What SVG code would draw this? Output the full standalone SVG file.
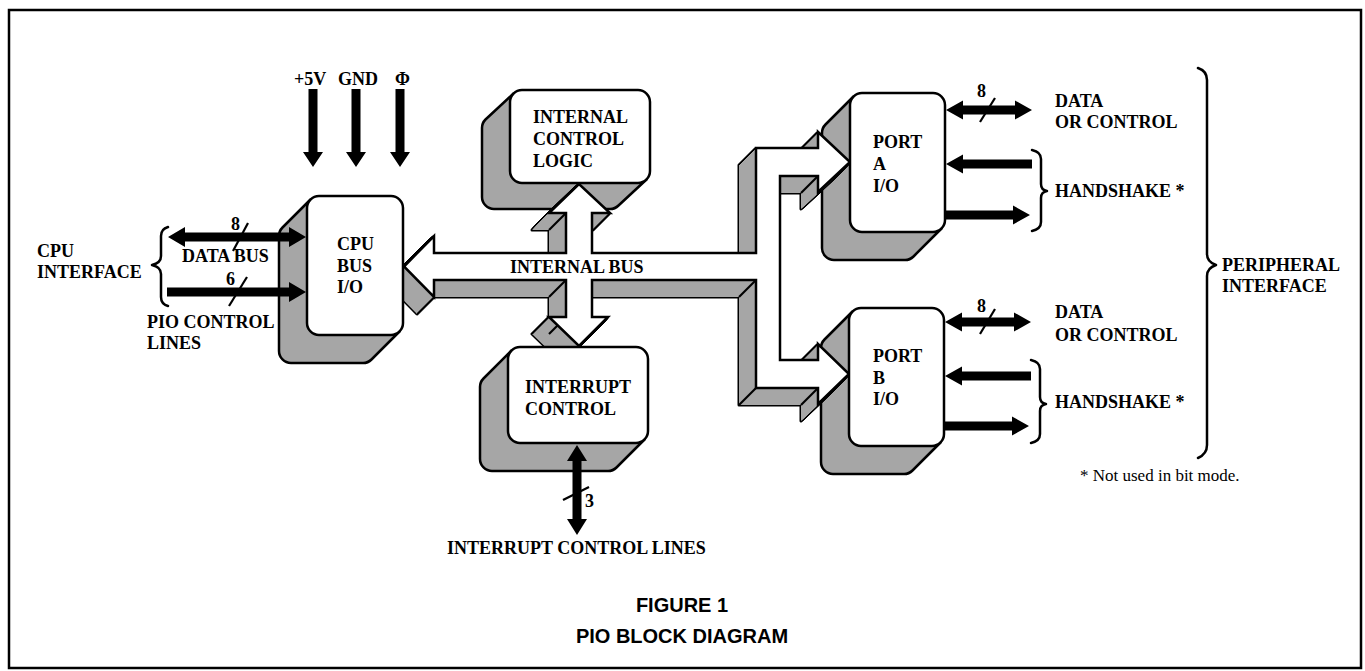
<svg xmlns="http://www.w3.org/2000/svg" xmlns:xlink="http://www.w3.org/1999/xlink" width="1365" height="671" viewBox="0 0 1365 671">
<style>
.t{font-family:"Liberation Serif","Times New Roman",serif;font-weight:bold;font-size:18px;fill:#000}
.fn{font-family:"Liberation Serif","Times New Roman",serif;font-size:17px;fill:#000}
.cap{font-family:"Liberation Sans",Arial,sans-serif;font-weight:bold;font-size:20px;fill:#000}
.box{fill:#fff;stroke:#000;stroke-width:2.5}
.shadow{fill:#a6a6a6;stroke:#000;stroke-width:2.5;stroke-linejoin:round}
.arrow{fill:#000;stroke:none}
.line{fill:none;stroke:#000;stroke-width:2.2}
.brace{fill:none;stroke:#000;stroke-width:2.5;stroke-linejoin:round;stroke-linecap:round}
</style>
<defs>
<path id="busShape" d="M404,266.5 L434,236 L434,253 L566,253 L566,213 L549,213 L579,184 L610,213 L592,213 L592,253 L756,253 L756,148 L818,148 L818,132 L850,162 L818,192 L818,176 L780,176 L780,360 L818,360 L818,344 L849,374 L818,404 L818,388 L756,388 L756,280 L592,280 L592,317 L608,317 L579,346 L549,317 L566,317 L566,280 L434,280 L434,297 Z"/>
</defs>
<rect x="0" y="0" width="1365" height="671" fill="#fff"/>
<rect x="9" y="10" width="1352" height="658" fill="none" stroke="#000" stroke-width="2.5"/>

<g id="shadows">
<path class="shadow" d="M310.5,199.5 L282.5,227.5 A12,12 0 0 0 279,236 V351 A12,12 0 0 0 291,363 H363 A12,12 0 0 0 371.5,359.5 L399.5,331.5 Z"/>
<path class="shadow" d="M513.5,93.5 L485.5,119.5 A12,12 0 0 0 482,128 V197 A12,12 0 0 0 494,209 H610 A12,12 0 0 0 618.5,205.5 L646.5,179.5 Z"/>
<path class="shadow" d="M511.5,350.5 L483.5,378.5 A12,12 0 0 0 480,387 V459 A12,12 0 0 0 492,471 H608 A12,12 0 0 0 616.5,467.5 L644.5,439.5 Z"/>
<path class="shadow" d="M853.5,96.5 L825.5,124.5 A12,12 0 0 0 822,133 V248 A12,12 0 0 0 834,260 H905 A12,12 0 0 0 913.5,256.5 L941.5,228.5 Z"/>
<path class="shadow" d="M852.5,311.5 L824.5,339.5 A12,12 0 0 0 821,348 V462 A12,12 0 0 0 833,474 H904 A12,12 0 0 0 912.5,470.5 L940.5,442.5 Z"/>
</g>

<g id="connectors">
<g id="internal-bus">
<g fill="#000" stroke="#000" stroke-width="3" stroke-linejoin="round">
<use xlink:href="#busShape" x="-1" y="1"/><use xlink:href="#busShape" x="-2" y="2"/><use xlink:href="#busShape" x="-3" y="3"/><use xlink:href="#busShape" x="-4" y="4"/><use xlink:href="#busShape" x="-5" y="5"/><use xlink:href="#busShape" x="-6" y="6"/><use xlink:href="#busShape" x="-7" y="7"/><use xlink:href="#busShape" x="-8" y="8"/><use xlink:href="#busShape" x="-9" y="9"/><use xlink:href="#busShape" x="-10" y="10"/><use xlink:href="#busShape" x="-11" y="11"/><use xlink:href="#busShape" x="-12" y="12"/><use xlink:href="#busShape" x="-13" y="13"/><use xlink:href="#busShape" x="-14" y="14"/><use xlink:href="#busShape" x="-15" y="15"/><use xlink:href="#busShape" x="-16" y="16"/><use xlink:href="#busShape" x="-17" y="17"/>
</g>
<g fill="#a6a6a6">
<use xlink:href="#busShape" x="-1" y="1"/><use xlink:href="#busShape" x="-2" y="2"/><use xlink:href="#busShape" x="-3" y="3"/><use xlink:href="#busShape" x="-4" y="4"/><use xlink:href="#busShape" x="-5" y="5"/><use xlink:href="#busShape" x="-6" y="6"/><use xlink:href="#busShape" x="-7" y="7"/><use xlink:href="#busShape" x="-8" y="8"/><use xlink:href="#busShape" x="-9" y="9"/><use xlink:href="#busShape" x="-10" y="10"/><use xlink:href="#busShape" x="-11" y="11"/><use xlink:href="#busShape" x="-12" y="12"/><use xlink:href="#busShape" x="-13" y="13"/><use xlink:href="#busShape" x="-14" y="14"/><use xlink:href="#busShape" x="-15" y="15"/><use xlink:href="#busShape" x="-16" y="16"/><use xlink:href="#busShape" x="-17" y="17"/>
</g>
<g class="line">
<line x1="756" y1="388" x2="739" y2="405"/>
<line x1="756" y1="280" x2="739" y2="297"/>
<line x1="566" y1="280" x2="549" y2="297"/>
<line x1="566" y1="213" x2="549" y2="230"/>
<line x1="566" y1="317" x2="549" y2="334"/>
<line x1="818" y1="388" x2="801" y2="405"/>
<line x1="818" y1="176" x2="801" y2="193"/>
</g>
<use xlink:href="#busShape" fill="#fff" stroke="#000" stroke-width="2.5" stroke-linejoin="miter"/>
<text class="t" x="510" y="273">INTERNAL BUS</text>
</g>

<g id="power-arrows">
<path class="arrow" d="M308.5,89 H317.5 V152 H323 L313,167 L303,152 H308.5 Z"/>
<path class="arrow" d="M351.5,89 H360.5 V152 H366 L356,167 L346,152 H351.5 Z"/>
<path class="arrow" d="M395.5,89 H404.5 V152 H410 L400,167 L390,152 H395.5 Z"/>
</g>
<g id="cpu-lines">
<path class="arrow" d="M168,237 L185,227 V232.5 H289 V227 L306,237 L289,247 V241.5 H185 V247 Z"/>
<path class="arrow" d="M167,287.5 H289 V282 L306,292 L289,302 V296.5 H167 Z"/>
<line class="line" x1="248" y1="223" x2="233" y2="251"/>
<line class="line" x1="247" y1="277" x2="229" y2="306"/>
<path class="brace" d="M168,227 Q161,229 161,236 V256 Q161,263 152,265 Q161,267 161,274 V297 Q161,304 168,306"/>
</g>
<g id="port-a-lines">
<path class="arrow" d="M946,110 L963,100.5 V105.5 H1015 V100.5 L1032,110 L1015,119.5 V114.5 H963 V119.5 Z"/>
<path class="arrow" d="M1032,159.5 H963 V154.5 L946,164 L963,173.5 V168.5 H1032 Z"/>
<path class="arrow" d="M946,210.5 H1013 V205.5 L1030,215 L1013,224.5 V219.5 H946 Z"/>
<line class="line" x1="995" y1="98" x2="980" y2="122"/>
<path class="brace" d="M1032,150 Q1041,152 1041,159 V184 Q1041,190 1047,191 Q1041,192 1041,198 V222 Q1041,229 1032,231"/>
</g>
<g id="port-b-lines">
<path class="arrow" d="M945,322 L962,312.5 V317.5 H1014 V312.5 L1031,322 L1014,331.5 V326.5 H962 V331.5 Z"/>
<path class="arrow" d="M1031,371.5 H962 V366.5 L945,376 L962,385.5 V380.5 H1031 Z"/>
<path class="arrow" d="M945,421.5 H1012 V416.5 L1029,426 L1012,435.5 V430.5 H945 Z"/>
<line class="line" x1="995" y1="309" x2="980" y2="334"/>
<path class="brace" d="M1031,360 Q1040,362 1040,369 V397 Q1040,403 1046,404 Q1040,405 1040,411 V434 Q1040,441 1031,443"/>
</g>
<g id="interrupt-lines">
<path class="arrow" d="M577,445 L587,461 H581.5 V519 H587 L577,535 L567,519 H572.5 V461 H567 Z"/>
<line class="line" x1="563" y1="500" x2="589" y2="487"/>
</g>
<path id="peripheral-brace" class="brace" d="M1198,68 Q1207,71 1207,80 V254 Q1207,262 1216,265 Q1207,268 1207,276 V445 Q1207,454 1198,458"/>
</g>

<g id="cpu-bus-io">
<rect class="box" x="307" y="196" width="96" height="139" rx="12"/>
<text class="t" x="337" y="250">CPU</text>
<text class="t" x="337" y="272">BUS</text>
<text class="t" x="337" y="293">I/O</text>
</g>
<g id="internal-control-logic">
<rect class="box" x="510" y="90" width="140" height="93" rx="12"/>
<text class="t" x="533" y="123">INTERNAL</text>
<text class="t" x="533" y="145">CONTROL</text>
<text class="t" x="533" y="167">LOGIC</text>
</g>
<g id="interrupt-control">
<rect class="box" x="508" y="347" width="140" height="96" rx="12"/>
<text class="t" x="525" y="393">INTERRUPT</text>
<text class="t" x="525" y="415">CONTROL</text>
</g>
<g id="port-a-io">
<rect class="box" x="850" y="93" width="95" height="139" rx="12"/>
<text class="t" x="873" y="148">PORT</text>
<text class="t" x="873" y="170">A</text>
<text class="t" x="873" y="192">I/O</text>
</g>
<g id="port-b-io">
<rect class="box" x="849" y="308" width="95" height="138" rx="12"/>
<text class="t" x="873" y="362">PORT</text>
<text class="t" x="873" y="384">B</text>
<text class="t" x="873" y="405">I/O</text>
</g>

<g id="labels">
<text class="t" x="294" y="85">+5V</text>
<text class="t" x="338" y="85">GND</text>
<text class="t" x="395" y="85">Φ</text>
<text class="t" x="37" y="257">CPU</text>
<text class="t" x="37" y="278">INTERFACE</text>
<text class="t" x="231" y="230">8</text>
<text class="t" x="182" y="262">DATA BUS</text>
<text class="t" x="226" y="285">6</text>
<text class="t" x="147" y="328">PIO CONTROL</text>
<text class="t" x="147" y="349">LINES</text>
<text class="t" x="977" y="97">8</text>
<text class="t" x="1055" y="107">DATA</text>
<text class="t" x="1055" y="128">OR CONTROL</text>
<text class="t" x="1055" y="197">HANDSHAKE *</text>
<text class="t" x="977" y="312">8</text>
<text class="t" x="1055" y="318">DATA</text>
<text class="t" x="1055" y="341">OR CONTROL</text>
<text class="t" x="1055" y="408">HANDSHAKE *</text>
<text class="t" x="1222" y="271">PERIPHERAL</text>
<text class="t" x="1222" y="292">INTERFACE</text>
<text class="t" x="585" y="507">3</text>
<text class="t" x="447" y="554">INTERRUPT CONTROL LINES</text>
<text class="fn" x="1080" y="481">* Not used in bit mode.</text>
<text class="cap" x="682" y="612" text-anchor="middle">FIGURE 1</text>
<text class="cap" x="682" y="643" text-anchor="middle">PIO BLOCK DIAGRAM</text>
</g>
</svg>
